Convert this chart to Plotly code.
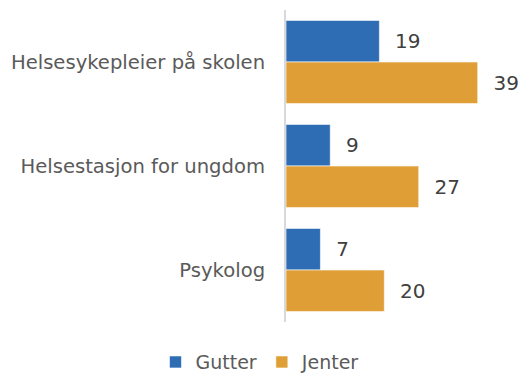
import plotly.graph_objects as go

categories = ["Helsesykepleier på skolen", "Helsestasjon for ungdom", "Psykolog"]
gutter = [19, 9, 7]
jenter = [39, 27, 20]

BLUE = "#2E6DB4"
ORANGE = "#E09E37"
TEXT = "#5A5A5A"
FONT = "DejaVu Sans"

fig = go.Figure()
for name, vals, col in [("Gutter", gutter, BLUE), ("Jenter", jenter, ORANGE)]:
    fig.add_trace(go.Bar(
        y=categories, x=vals, name=name, orientation="h",
        marker=dict(color=col, line=dict(color="white", width=0.6)),
        text=vals, texttemplate="\u00a0\u00a0%{x}",
        textposition="outside", constraintext="none", cliponaxis=False,
        textfont=dict(size=20, color="#404040", family=FONT),
    ))

fig.update_layout(
    width=520, height=376,
    margin=dict(l=286, r=0, t=10, b=54),
    paper_bgcolor="white", plot_bgcolor="white",
    barmode="group", bargap=0.2, bargroupgap=0,
    font=dict(family=FONT, size=19, color=TEXT),
    showlegend=True,
    legend=dict(orientation="h", traceorder="normal",
                xref="container", x=0.5, xanchor="center",
                yref="container", y=0.037, yanchor="middle",
                font=dict(size=19, color=TEXT), itemwidth=30),
    xaxis=dict(range=[0, 47.6], visible=False),
    yaxis=dict(autorange="reversed", showline=True, linecolor="#D9D9D9",
               linewidth=2, ticks="", ticklabelstandoff=15,
               tickfont=dict(size=19.6, color=TEXT)),
)

fig.write_html("out.html")
